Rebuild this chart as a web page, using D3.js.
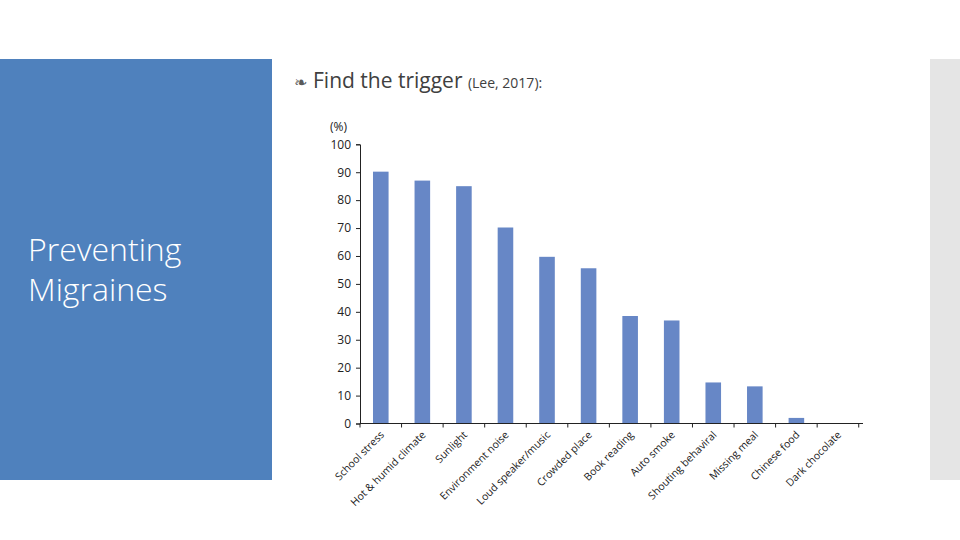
<!DOCTYPE html>
<html>
<head>
<meta charset="utf-8">
<script src="https://cdn.jsdelivr.net/npm/d3@7"></script>
<style>
  body { margin: 0; background: #fff; }
  svg { display: block; font-family: "Open Sans", sans-serif; }
</style>
</head>
<body>
<div id="chart"></div>
<script>
// Chart data
const categories = ["School stress", "Hot & humid climate", "Sunlight", "Environment noise",
  "Loud speaker/music", "Crowded place", "Book reading", "Auto smoke",
  "Shouting  behaviral", "Missing meal", "Chinese food", "Dark chocolate"];
const percents = [90.2, 87, 85, 70.2, 59.7, 55.6, 38.5, 36.9, 14.7, 13.3, 2, 0];
const yTicks = [0, 10, 20, 30, 40, 50, 60, 70, 80, 90, 100];

const width = 960;
const height = 540;

const svg = d3.select("#chart")
  .append("svg")
  .attr("width", width)
  .attr("height", height);

// Slide decoration
svg.append("rect")
  .attr("x", 0).attr("y", 59)
  .attr("width", 272).attr("height", 421)
  .attr("fill", "#4f81bd");

svg.append("rect")
  .attr("x", 930).attr("y", 59)
  .attr("width", 30).attr("height", 421)
  .attr("fill", "#e5e5e5");

const slideTitle = svg.append("text")
  .attr("x", 28).attr("y", 261)
  .attr("fill", "#fff")
  .attr("font-size", 32)
  .attr("font-weight", 300);
slideTitle.append("tspan").attr("x", 28).text("Preventing");
slideTitle.append("tspan").attr("x", 28).attr("dy", 40).text("Migraines");

// Bullet heading
svg.append("text")
  .attr("x", 294).attr("y", 88)
  .attr("fill", "#5a5a5a")
  .attr("font-size", 16)
  .attr("font-family", "DejaVu Sans")
  .text("\u2767");

const heading = svg.append("text")
  .attr("x", 313).attr("y", 88)
  .attr("fill", "#404040")
  .attr("font-size", 21);
heading.append("tspan").text("Find the trigger ");
heading.append("tspan").attr("font-size", 14).text("(Lee, 2017):");

// Chart area
const margin = { left: 360, right: 863, top: 144.3, bottom: 423.5 };

const x = d3.scaleBand()
  .domain(categories)
  .range([margin.left, margin.left + 41.56 * categories.length])
  .paddingInner(0.625)
  .paddingOuter(0.3125);

const y = d3.scaleLinear()
  .domain([0, 100])
  .range([margin.bottom, margin.top]);

// Bars
svg.append("g")
  .selectAll("rect")
  .data(categories)
  .enter().append("rect")
  .attr("x", d => x(d))
  .attr("width", x.bandwidth())
  .attr("y", (d, i) => y(percents[i]))
  .attr("height", (d, i) => y(0) - y(percents[i]))
  .attr("fill", "#6787c6");

// Y axis
const yAxis = svg.append("g")
  .attr("transform", `translate(${margin.left},0)`)
  .call(d3.axisLeft(y).tickValues(yTicks).tickSize(4).tickPadding(5));
yAxis.select(".domain").attr("stroke", "#222");
yAxis.selectAll(".tick line").attr("stroke", "#222");
yAxis.selectAll("text").attr("font-size", 12).attr("fill", "#222")
  .attr("font-family", "Open Sans, sans-serif");

svg.append("text")
  .attr("x", 330).attr("y", 131)
  .attr("font-size", 12)
  .attr("fill", "#222")
  .text("(%)");

// X axis (ticks at category boundaries)
const xLine = svg.append("g");
xLine.append("line")
  .attr("x1", margin.left).attr("x2", margin.right)
  .attr("y1", y(0)).attr("y2", y(0))
  .attr("stroke", "#222");
xLine.selectAll(".bt")
  .data(d3.range(categories.length + 1))
  .enter().append("line")
  .attr("x1", i => margin.left + i * x.step())
  .attr("x2", i => margin.left + i * x.step())
  .attr("y1", y(0)).attr("y2", y(0) + 4)
  .attr("stroke", "#222");

// Rotated category labels
svg.append("g")
  .selectAll("text")
  .data(categories)
  .enter().append("text")
  .attr("transform", d => `translate(${x(d) + x.bandwidth() / 2 + 4},${y(0) + 12}) rotate(-45)`)
  .attr("text-anchor", "end")
  .attr("font-size", 10.5)
  .attr("fill", "#222")
  .text(d => d);
</script>
</body>
</html>
